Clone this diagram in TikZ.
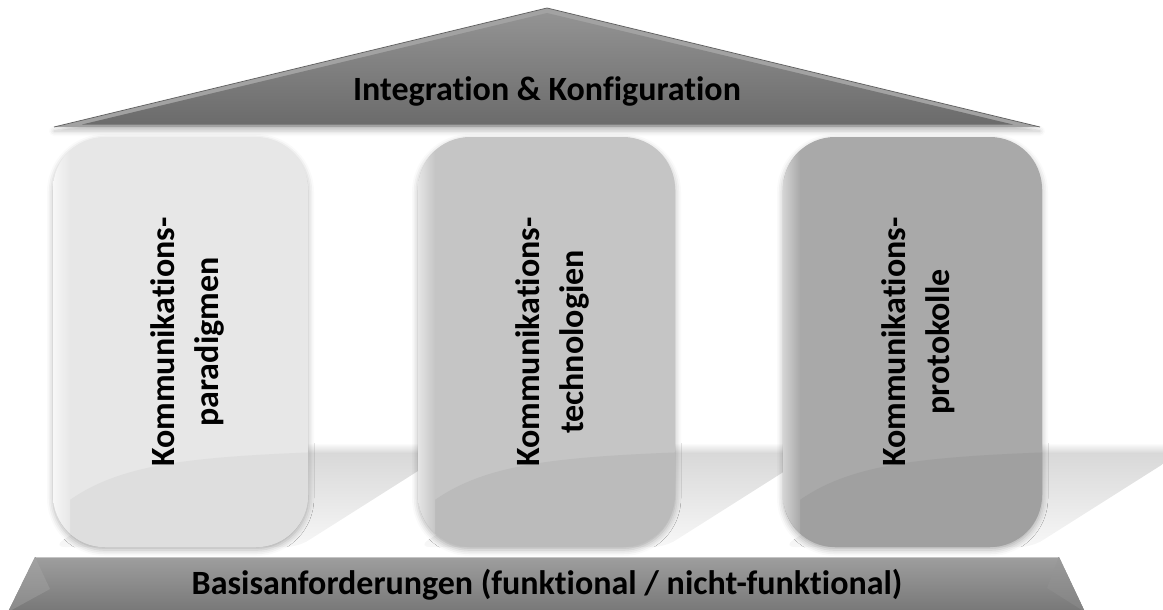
\documentclass[tikz,border=0pt]{standalone}
\usepackage{fontspec}
\setmainfont{Carlito}[Ligatures={NoCommon}]
\usetikzlibrary{shadows.blur}

\definecolor{pilA}{HTML}{E7E7E7}
\definecolor{pilAlow}{HTML}{DEDEDE}
\definecolor{pilB}{HTML}{C5C5C5}
\definecolor{pilBlow}{HTML}{BBBBBB}
\definecolor{pilC}{HTML}{A9A9A9}
\definecolor{pilClow}{HTML}{A0A0A0}
\definecolor{roofTop}{HTML}{939393}
\definecolor{roofBottom}{HTML}{6B6B6B}
\definecolor{roofBevel}{HTML}{A2A2A2}
\definecolor{roofEdge}{HTML}{5E5E5E}
\definecolor{baseTop}{HTML}{9E9E9E}
\definecolor{baseBottom}{HTML}{777777}
\definecolor{baseFacet}{HTML}{A2A2A2}
\definecolor{baseRim}{HTML}{C4C4C4}
\definecolor{castShadow}{HTML}{D8D8D8}

\tikzset{
  label text/.style={font=\fontsize{34}{40}\selectfont\bfseries, text=black, inner sep=0pt},
  pillar text/.style={font=\fontsize{34}{44}\selectfont\bfseries, text=black,
    rotate=90, align=center, inner sep=0pt},
  pillarbox/.style={rounded corners=52pt,
    blur shadow={shadow xshift=0pt, shadow yshift=-3pt, shadow blur radius=6pt, shadow opacity=30}},
  cast/.style={rounded corners=12pt, top color=castShadow, bottom color=white!80!castShadow},
  cast rim/.style={top color=white, bottom color=castShadow},
}

\begin{document}
\begin{tikzpicture}[x=1pt,y=-1pt]
\useasboundingbox (0,0) rectangle (1163,610);

% shadows thrown back by the three pillars, with a soft upper rim
\foreach \l/\r in {53/308, 418/675, 783/1042}{
  \shade[cast] (\l,547) -- (\r-10,547) -- (\r+140,452) -- (\l+140,452) -- cycle;
  \shade[cast rim] (\l+150,443) rectangle (\r+128,453);
}

% roof with bevelled rim
\fill[roofBevel, blur shadow={shadow xshift=0pt, shadow yshift=-4pt, shadow blur radius=5pt, shadow opacity=25}]
  (54,127) -- (547,8) -- (1040,127) -- cycle;
\shade[top color=roofTop, bottom color=roofBottom]
  (82,124.5) -- (547,13) -- (1013,124.5) -- cycle;
\draw[roofEdge, line width=0.7pt, line join=miter] (54,127) -- (547,8) -- (1040,127);
\node[label text, anchor=base] (roof) at (547,100) {Integration \& Konfiguration};

% pillars
\path[pillarbox, fill=pilA] (53,137) rectangle (308,547);
\begin{scope}
  \clip[rounded corners=52pt] (53,137) rectangle (308,547);
  \fill[pilAlow] (40,560) -- (40,526) .. controls (95,468) and (160,458) .. (320,452) -- (320,560) -- cycle;
  \shade[left color=white!65!pilA, right color=pilA] (53,137) rectangle (70,547);
\end{scope}

\path[pillarbox, fill=pilB] (418,137) rectangle (675,547);
\begin{scope}
  \clip[rounded corners=52pt] (418,137) rectangle (675,547);
  \fill[pilBlow] (405,560) -- (405,526) .. controls (460,468) and (525,458) .. (687,452) -- (687,560) -- cycle;
  \shade[left color=white!55!pilB, right color=pilB] (418,137) rectangle (435,547);
\end{scope}

\path[pillarbox, fill=pilC] (783,137) rectangle (1042,547);
\begin{scope}
  \clip[rounded corners=52pt] (783,137) rectangle (1042,547);
  \fill[pilClow] (770,560) -- (770,526) .. controls (825,468) and (890,458) .. (1054,452) -- (1054,560) -- cycle;
  \shade[left color=white!50!pilC, right color=pilC] (783,137) rectangle (800,547);
\end{scope}

\node[pillar text] (paradigmen) at (187,342) {Kommunikations-\\paradigmen};
\node[pillar text] (technologien) at (552,342) {Kommunikations-\\technologien};
\node[pillar text] (protokolle) at (918,342) {Kommunikations-\\protokolle};

% foundation slab with bevelled ends
\shade[top color=baseTop, bottom color=baseBottom] (35,557) -- (1059,557) -- (1085,612) -- (8,612) -- cycle;
\shade[top color=baseFacet, bottom color=baseFacet!85!black] (35,557) -- (50,589) -- (8,612) -- cycle;
\shade[top color=baseFacet!95!black, bottom color=baseFacet!80!black] (1059,557) -- (1047,588) -- (1085,612) -- cycle;
\draw[baseRim, line width=1.2pt] (36,557.6) -- (1058,557.6);
\node[label text, anchor=base] (basis) at (547,594) {Basisanforderungen (funktional / nicht-funktional)};
\end{tikzpicture}
\end{document}
